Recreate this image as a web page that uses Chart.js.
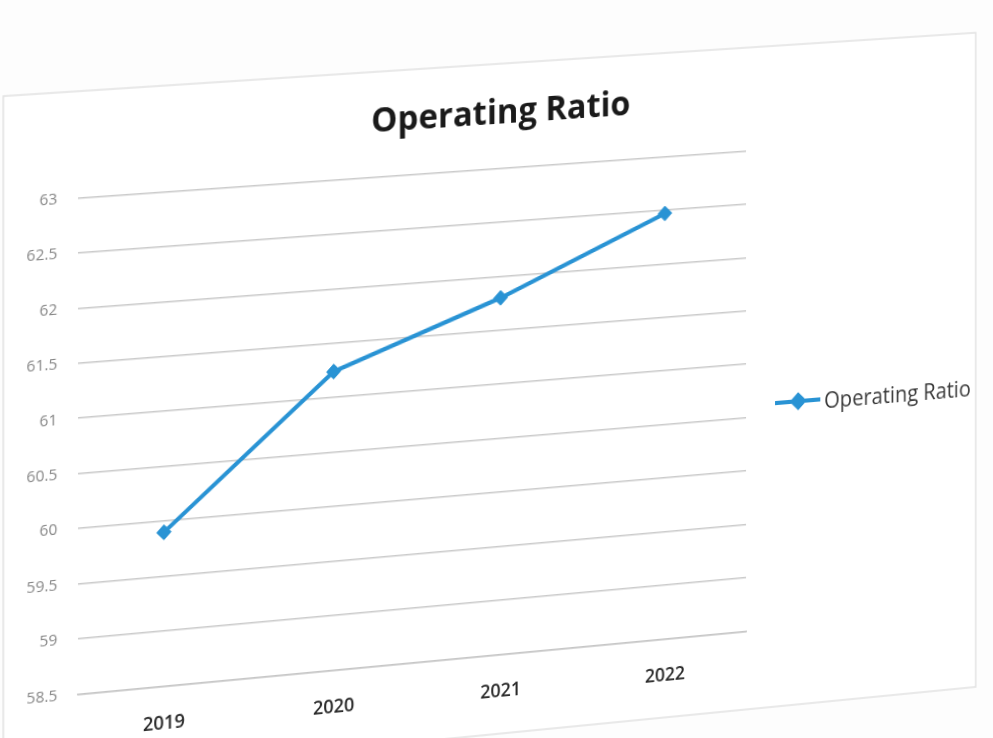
<!DOCTYPE html>
<html>
<head>
<meta charset="utf-8">
<title>Operating Ratio</title>
<script src="https://cdn.jsdelivr.net/npm/chart.js@4.4.1/dist/chart.umd.min.js"></script>
<style>
  html, body { margin: 0; padding: 0; background: #fdfdfd; overflow: hidden; }
  #sheet { position: absolute; left: 0; top: 0; width: 993px; height: 745px; transform-origin: 0 0; }
</style>
</head>
<body>
<div id="sheet"><canvas id="ratio-chart" width="993" height="745"></canvas></div>
<script>
const years = ['2019', '2020', '2021', '2022'];
const operatingRatio = [59.9, 61.24, 61.8, 62.47];
const yMin = 58.5;
const yMax = 63;
const yStep = 0.5;

// the printed sheet sits at an angle: page positions of the plot frame
// corners (top-left, top-right, bottom-right, bottom-left)
const frameCorners = [[78, 198], [746, 151], [746, 631], [78, 694]];

const lineBlue = '#2993d4';
const fontFamily = '"Open Sans", "Noto Sans", sans-serif';

// solve the 8 unknowns of a projective map taking src quad onto dst quad
function homography(src, dst) {
    const A = [], b = [];
    for (let i = 0; i < 4; i++) {
        const [x, y] = src[i], [u, v] = dst[i];
        A.push([x, y, 1, 0, 0, 0, -u * x, -u * y]); b.push(u);
        A.push([0, 0, 0, x, y, 1, -v * x, -v * y]); b.push(v);
    }
    const n = 8;
    for (let c = 0; c < n; c++) {
        let p = c;
        for (let r = c + 1; r < n; r++) {
            if (Math.abs(A[r][c]) > Math.abs(A[p][c])) p = r;
        }
        [A[c], A[p]] = [A[p], A[c]];
        [b[c], b[p]] = [b[p], b[c]];
        for (let r = 0; r < n; r++) {
            if (r === c) continue;
            const f = A[r][c] / A[c][c];
            for (let k = c; k < n; k++) A[r][k] -= f * A[c][k];
            b[r] -= f * b[c];
        }
    }
    return b.map((v, i) => v / A[i][i]);
}

// white chart box with its thin grey border
const chartBox = {
    id: 'chartBox',
    beforeDraw(chart) {
        const ctx = chart.ctx;
        ctx.save();
        ctx.fillStyle = '#ffffff';
        ctx.fillRect(6, 76, 980, 638);
        ctx.strokeStyle = '#e2e2e2';
        ctx.lineWidth = 1.5;
        ctx.strokeRect(6, 76, 980, 638);
        ctx.restore();
    }
};

// the title spans the whole chart width, not just the part left of the legend
const wideTitle = {
    id: 'wideTitle',
    afterLayout(chart) {
        const t = chart.titleBlock;
        if (t) {
            t.left = 0;
            t.right = chart.width;
            t.width = chart.width;
        }
    }
};

// legend entry on the right: short line with a diamond, then the series name
const sideLegend = {
    id: 'sideLegend',
    afterDraw(chart) {
        const ctx = chart.ctx;
        const ds = chart.data.datasets[0];
        const area = chart.chartArea;
        const x = area.right + 30;
        const y = (area.top + area.bottom) / 2 + 14;
        ctx.save();
        ctx.strokeStyle = ds.borderColor;
        ctx.fillStyle = ds.backgroundColor;
        ctx.lineWidth = ds.borderWidth;
        ctx.beginPath();
        ctx.moveTo(x, y);
        ctx.lineTo(x + 47, y);
        ctx.stroke();
        Chart.helpers.drawPoint(ctx, { pointStyle: 'rectRot', radius: 6, borderWidth: 1 }, x + 24, y);
        ctx.font = '21px ' + fontFamily;
        ctx.fillStyle = '#3a3a3a';
        ctx.textBaseline = 'middle';
        ctx.fillText(ds.label, x + 51, y + 3);
        ctx.restore();
    }
};

const ctx = document.getElementById('ratio-chart').getContext('2d');
const chart = new Chart(ctx, {
    type: 'line',
    data: {
        labels: years,
        datasets: [{
            label: 'Operating Ratio',
            data: operatingRatio,
            borderColor: lineBlue,
            backgroundColor: lineBlue,
            borderWidth: 4,
            pointStyle: 'rectRot',
            pointRadius: 7,
            pointBorderWidth: 1,
            tension: 0
        }]
    },
    options: {
        responsive: false,
        animation: false,
        layout: { padding: { top: 0, left: 8, right: 247, bottom: 35 } },
        plugins: {
            legend: { display: false },
            tooltip: { enabled: false },
            title: {
                display: true,
                text: 'Operating Ratio',
                color: '#1a1a1a',
                font: { family: fontFamily, size: 33, weight: 'bold' },
                padding: { top: 104, bottom: 32 }
            }
        },
        scales: {
            x: {
                offset: true,
                grid: { display: false, drawTicks: false },
                border: { display: true, color: '#c6c6c6', width: 1.5 },
                ticks: {
                    color: '#2a2a2a',
                    padding: 25,
                    maxRotation: 0,
                    font: { family: fontFamily, size: 18, weight: '600' }
                }
            },
            y: {
                min: yMin,
                max: yMax,
                afterFit: scale => { scale.width = 70; },
                border: { display: false },
                grid: { color: '#cbcbcb', lineWidth: 1.6, drawTicks: false },
                ticks: {
                    stepSize: yStep,
                    padding: 20,
                    color: '#878787',
                    font: { family: fontFamily, size: 15 },
                    callback: value => String(value)
                }
            }
        }
    },
    plugins: [chartBox, wideTitle, sideLegend]
});

// lay the flat chart onto the tilted sheet
const area = chart.chartArea;
const src = [[area.left, area.top], [area.right, area.top], [area.right, area.bottom], [area.left, area.bottom]];
const h = homography(src, frameCorners);
document.getElementById('sheet').style.transform =
    `matrix3d(${h[0]}, ${h[3]}, 0, ${h[6]}, ${h[1]}, ${h[4]}, 0, ${h[7]}, 0, 0, 1, 0, ${h[2]}, ${h[5]}, 0, 1)`;
</script>
</body>
</html>
